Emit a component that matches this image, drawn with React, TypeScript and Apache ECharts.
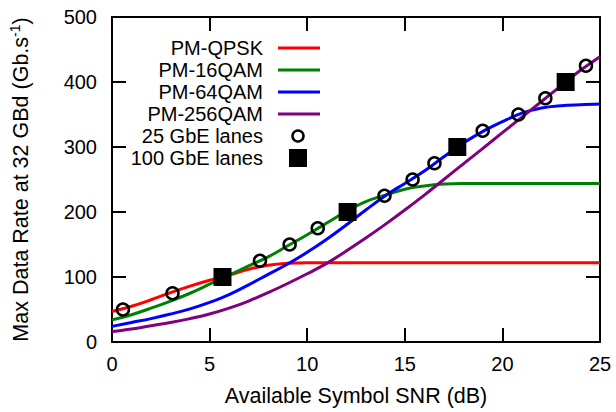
import React, { useEffect, useRef } from "react";
import * as echarts from "echarts";

const snr = [0, 1, 2, 3, 4, 5, 6, 7, 8, 9, 10, 11, 12, 13, 14, 15, 16, 17, 18, 19, 20, 21, 22, 23, 24, 25];
const qpsk = [47, 55, 65, 76, 86, 95, 103, 112, 118, 121, 122, 122, 122, 122, 122, 122, 122, 122, 122, 122, 122, 122, 122, 122, 122, 122];
const qam16 = [34, 42, 52, 63, 75, 89, 103, 117, 131, 148, 165, 183, 201, 216, 226, 235, 240, 243, 244, 244, 244, 244, 244, 244, 244, 244];
const qam64 = [24, 30, 36, 43, 51, 61, 73, 88, 104, 120, 138, 158, 180, 203, 225, 244, 263, 285, 306, 324, 339, 352, 360, 363.5, 365, 366];
const qam256 = [16, 20, 25, 30, 36, 43, 52, 63, 76, 90, 105, 121, 140, 160, 181, 203, 226, 250, 274, 298, 322, 346, 370, 394, 418, 439];

const lanes25: number[][] = [
  [0.56, 50], [3.1, 75], [7.58, 125], [9.1, 150], [10.54, 175], [13.96, 225],
  [15.4, 250], [16.52, 275], [18.99, 325], [20.82, 350], [22.2, 375], [24.28, 425],
];
const lanes100: number[][] = [[5.66, 100], [12.07, 200], [17.69, 300], [23.24, 400]];

const seriesNames = ["PM-QPSK", "PM-16QAM", "PM-64QAM", "PM-256QAM", "25 GbE lanes", "100 GbE lanes"];
const colors = ["#ff0000", "#008000", "#0000ff", "#800080"];
const xTicks = [0, 25];
const yRange = [0, 500];

const FONT = "'Liberation Sans', Arial, Helvetica, sans-serif";

export default function App() {
  const ref = useRef<HTMLDivElement>(null);
  useEffect(() => {
    if (!ref.current) return;
    const chart = echarts.init(ref.current, null, { renderer: "svg" });
    const curves = [qpsk, qam16, qam64, qam256];
    const legendX = 263;
    const legendY0 = 48;
    const legendDy = 22;
    const graphics: any[] = [];
    seriesNames.forEach((n, i) => {
      graphics.push({
        type: "text",
        x: legendX,
        y: legendY0 + legendDy * i,
        style: { text: n, fill: "#000", font: `20px ${FONT}`, align: "right", verticalAlign: "middle" },
      });
    });
    colors.forEach((c, i) => {
      graphics.push({
        type: "line",
        shape: { x1: 278, y1: legendY0 + legendDy * i, x2: 320, y2: legendY0 + legendDy * i },
        style: { stroke: c, lineWidth: 3 },
      });
    });
    graphics.push({
      type: "circle",
      shape: { cx: 298, cy: legendY0 + legendDy * 4, r: 5.5 },
      style: { fill: "none", stroke: "#000", lineWidth: 2.5 },
    });
    graphics.push({
      type: "rect",
      shape: { x: 289, y: legendY0 + legendDy * 5 - 9, width: 18, height: 18 },
      style: { fill: "#000" },
    });

    const axisLineStyle = { color: "#000", width: 2 };
    const tickStyle = { show: true, inside: true, length: 14, lineStyle: { color: "#000", width: 2 } };

    chart.setOption({
      animation: false,
      textStyle: { fontFamily: FONT },
      grid: { left: 112, right: 16, top: 17, bottom: 67, containLabel: false },
      xAxis: [
        {
          type: "value",
          min: xTicks[0],
          max: xTicks[1],
          interval: 5,
          position: "bottom",
          name: "Available Symbol SNR (dB)",
          nameLocation: "middle",
          nameGap: 43,
          nameTextStyle: { fontSize: 21.5, color: "#000", fontFamily: FONT },
          axisLine: { show: true, onZero: false, lineStyle: axisLineStyle },
          axisTick: tickStyle,
          axisLabel: { fontSize: 20, color: "#000", margin: 12, fontFamily: FONT },
          splitLine: { show: false },
        },
        {
          type: "value",
          min: xTicks[0],
          max: xTicks[1],
          interval: 5,
          position: "top",
          axisLine: { show: true, onZero: false, lineStyle: axisLineStyle },
          axisTick: tickStyle,
          axisLabel: { show: false },
          splitLine: { show: false },
        },
      ],
      yAxis: [
        {
          type: "value",
          min: yRange[0],
          max: yRange[1],
          interval: 100,
          position: "left",
          name: "{a|Max Data Rate at 32 GBd (Gb.s}{s|-1}{a|)}",
          nameLocation: "middle",
          nameGap: 79,
          nameTextStyle: {
            color: "#000",
            fontFamily: FONT,
            rich: {
              a: { fontSize: 21.5, color: "#000", fontFamily: FONT, lineHeight: 25 },
              s: { fontSize: 14, color: "#000", fontFamily: FONT, verticalAlign: "top", lineHeight: 25, padding: [0, 0, 10, 0] },
            },
          },
          axisLine: { show: true, onZero: false, lineStyle: axisLineStyle },
          axisTick: tickStyle,
          axisLabel: { fontSize: 20, color: "#000", margin: 15, fontFamily: FONT },
          splitLine: { show: false },
        },
        {
          type: "value",
          min: yRange[0],
          max: yRange[1],
          interval: 100,
          position: "right",
          axisLine: { show: true, onZero: false, lineStyle: axisLineStyle },
          axisTick: tickStyle,
          axisLabel: { show: false },
          splitLine: { show: false },
        },
      ],
      series: [
        ...curves.map((arr, i) => ({
          name: seriesNames[i],
          type: "line",
          xAxisIndex: 0,
          yAxisIndex: 0,
          data: snr.map((x, j) => [x, arr[j]]),
          smooth: 0.4,
          showSymbol: false,
          symbol: "none",
          lineStyle: { color: colors[i], width: 3 },
          z: 2 + i,
        })),
        {
          name: seriesNames[4],
          type: "scatter",
          xAxisIndex: 0,
          yAxisIndex: 0,
          data: lanes25,
          symbol: "circle",
          symbolSize: 12,
          itemStyle: { color: "rgba(0,0,0,0)", borderColor: "#000", borderWidth: 2.5, opacity: 1 },
          z: 10,
        },
        {
          name: seriesNames[5],
          type: "scatter",
          xAxisIndex: 0,
          yAxisIndex: 0,
          data: lanes100,
          symbol: "rect",
          symbolSize: 18,
          itemStyle: { color: "#000", opacity: 1 },
          z: 11,
        },
      ],
      graphic: graphics,
    });
    return () => chart.dispose();
  }, []);
  return (
    <div
      ref={ref}
      style={{ position: "fixed", left: 0, top: 0, width: 616, height: 412, background: "#fff" }}
    />
  );
}
